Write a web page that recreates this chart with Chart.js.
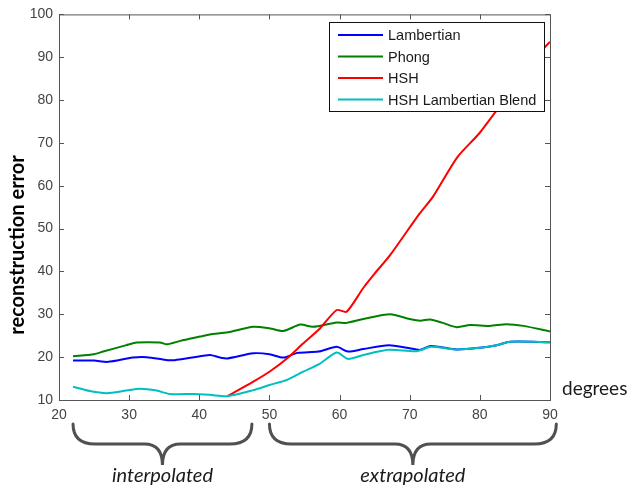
<!DOCTYPE html>
<html>
<head>
<meta charset="utf-8">
<script src="https://cdn.jsdelivr.net/npm/chart.js@4.4.1/dist/chart.umd.min.js"></script>
<style>
  html, body { margin: 0; padding: 0; background: #fff; }
  #wrap { width: 631px; height: 488px; }
</style>
</head>
<body>
<div id="wrap"><canvas id="errChart"></canvas></div>
<script>
// values
const lambertDeg = [22, 25, 27, 30.5, 32.5, 35.5, 36.5, 39, 41.5, 43, 44, 47.7, 50, 52, 54, 57, 59.6, 61.2, 63.4, 67, 69.6, 71.5, 73, 76.7, 80, 82.4, 84.3, 90];
const lambertErr = [19.2, 19.2, 18.9, 19.9, 20.0, 19.3, 19.3, 19.9, 20.5, 19.9, 19.7, 20.9, 20.7, 19.9, 21.0, 21.3, 22.4, 21.3, 21.9, 22.8, 22.2, 21.7, 22.6, 21.8, 22.2, 22.8, 23.6, 23.5];

const phongDeg = [22, 25, 26.3, 29.6, 31.1, 34.4, 35.4, 37.3, 40.1, 41.5, 44.1, 47.7, 50.1, 52, 54.4, 56.2, 59.6, 61, 63.4, 67.2, 70, 71.5, 72.9, 74.7, 76.7, 78.6, 81.4, 83.8, 86.2, 90];
const phongErr = [20.2, 20.7, 21.3, 22.8, 23.4, 23.4, 23.0, 23.8, 24.8, 25.3, 25.8, 27.1, 26.7, 26.1, 27.6, 27.1, 28.1, 28.0, 28.9, 30.0, 28.9, 28.5, 28.8, 28.0, 27.0, 27.5, 27.3, 27.7, 27.3, 26.0];

const hshDeg = [44, 47.7, 50, 52.5, 54.8, 57.2, 59.6, 61, 63.4, 65, 67.2, 71.4, 73.3, 76.8, 79.9, 82.4, 86, 89.3, 90];
const hshErr = [10.9, 14.3, 16.6, 19.7, 23.2, 26.7, 31.0, 30.6, 36.2, 39.5, 43.8, 53.5, 57.4, 66.7, 72.2, 77.6, 85.0, 92.4, 93.6];

const blendDeg = [22, 24.4, 26.8, 29.6, 31.5, 33.9, 35.8, 39.2, 41.5, 44, 47.7, 50, 52.5, 54.8, 57.2, 59.6, 61.2, 63.4, 67, 71, 73, 76.7, 80, 82.4, 84.3, 90];
const blendErr = [13.1, 12.1, 11.6, 12.2, 12.6, 12.2, 11.4, 11.4, 11.2, 10.9, 12.3, 13.5, 14.7, 16.6, 18.5, 21.1, 19.6, 20.5, 21.7, 21.4, 22.4, 21.8, 22.2, 22.8, 23.6, 23.5];

const seriesNames = ['Lambertian', 'Phong', 'HSH', 'HSH Lambertian Blend'];
const seriesColors = ['#0000ff', '#008000', '#ff0000', '#00bfbf'];
const drawOrder = [3, 2, 1, 0]; // blend ends up on top, like the original
const xTicks = [20, 30, 40, 50, 60, 70, 80, 90];
const yTicks = [10, 20, 30, 40, 50, 60, 70, 80, 90, 100];
const braceRanges = [[22, 47.5, 'interpolated'], [50, 90.9, 'extrapolated']];

const pts = (xs, ys) => xs.map((x, i) => ({ x: x, y: ys[i] }));
const allDeg = [lambertDeg, phongDeg, hshDeg, blendDeg];
const allErr = [lambertErr, phongErr, hshErr, blendErr];

Chart.defaults.font.family = '"Liberation Sans", Arial, sans-serif';

const AXIS = '#555555';

// matlab-ish frame, inward ticks, legend box, braces and extra labels
const decorations = {
    id: 'decorations',
    afterDatasetsDraw(chart) {
        const { ctx, chartArea: a, scales } = chart;
        const xs = scales.x, ys = scales.y;
        ctx.save();
        ctx.strokeStyle = AXIS;
        ctx.lineWidth = 1;
        ctx.strokeRect(a.left + 0.5, a.top + 0.5, a.right - a.left, a.bottom - a.top);
        ctx.beginPath();
        xTicks.forEach(v => {
            const px = Math.round(xs.getPixelForValue(v)) + 0.5;
            ctx.moveTo(px, a.bottom); ctx.lineTo(px, a.bottom - 5);
            ctx.moveTo(px, a.top); ctx.lineTo(px, a.top + 5);
        });
        yTicks.forEach(v => {
            const py = Math.round(ys.getPixelForValue(v)) + 0.5;
            ctx.moveTo(a.left, py); ctx.lineTo(a.left + 5, py);
            ctx.moveTo(a.right, py); ctx.lineTo(a.right - 5, py);
        });
        ctx.stroke();

        // legend
        const lx = 329.5, ly = 22.5, lw = 215, lh = 89;
        ctx.fillStyle = '#fff';
        ctx.fillRect(lx, ly, lw, lh);
        ctx.strokeStyle = '#111';
        ctx.strokeRect(lx, ly, lw, lh);
        ctx.font = '14.5px "Liberation Sans", Arial, sans-serif';
        ctx.textBaseline = 'middle';
        ctx.textAlign = 'left';
        seriesNames.forEach((name, i) => {
            const yy = 35 + i * 21.5;
            ctx.strokeStyle = seriesColors[i];
            ctx.lineWidth = 2;
            ctx.beginPath();
            ctx.moveTo(338, yy); ctx.lineTo(383, yy);
            ctx.stroke();
            ctx.fillStyle = '#1a1a1a';
            ctx.fillText(name, 388, yy + 1);
        });

        // y title
        ctx.fillStyle = '#000';
        ctx.save();
        ctx.translate(18, 245);
        ctx.rotate(-Math.PI / 2);
        ctx.textAlign = 'center';
        ctx.font = 'bold 20px Lato, "Open Sans", sans-serif';
        ctx.fillText('reconstruction error', 0, 0);
        ctx.restore();

        ctx.font = '19px Lato, "Open Sans", sans-serif';
        ctx.fillStyle = '#1a1a1a';
        ctx.textAlign = 'left';
        ctx.fillText('degrees', 562, 389);

        // braces
        ctx.strokeStyle = '#505050';
        ctx.lineWidth = 3;
        ctx.lineCap = 'round';
        braceRanges.forEach(([d0, d1, label]) => {
            const x0 = xs.getPixelForValue(d0), x1 = xs.getPixelForValue(d1);
            const xc = (x0 + x1) / 2;
            const y0 = 424, y1 = 444, yt = 465;
            ctx.beginPath();
            ctx.moveTo(x0, y0);
            ctx.quadraticCurveTo(x0, y1, x0 + 22, y1);
            ctx.lineTo(xc - 18, y1);
            ctx.quadraticCurveTo(xc, y1, xc, yt);
            ctx.quadraticCurveTo(xc, y1, xc + 18, y1);
            ctx.lineTo(x1 - 22, y1);
            ctx.quadraticCurveTo(x1, y1, x1, y0);
            ctx.stroke();
            ctx.font = 'italic 20px Lato, "Open Sans", sans-serif';
            ctx.fillStyle = '#1a1a1a';
            ctx.textAlign = 'center';
            ctx.fillText(label, xc, 476);
        });
        ctx.restore();
    }
};

new Chart(document.getElementById('errChart'), {
    type: 'line',
    data: {
        datasets: seriesNames.map((name, i) => ({
            label: name,
            data: pts(allDeg[i], allErr[i]),
            borderColor: seriesColors[i],
            borderWidth: 2,
            pointRadius: 0,
            tension: 0.25,
            order: drawOrder[i],
            fill: false
        }))
    },
    options: {
        responsive: true,
        maintainAspectRatio: false,
        animation: false,
        layout: { padding: { left: 0, top: 14, right: 81, bottom: 0 } },
        plugins: { legend: { display: false }, tooltip: { enabled: false } },
        scales: {
            x: {
                type: 'linear', min: 20, max: 90,
                afterBuildTicks: s => { s.ticks = xTicks.map(v => ({ value: v })); },
                afterFit: s => { s.height = 88; },
                grid: { display: false, drawTicks: false },
                border: { display: false },
                ticks: { padding: 7, color: '#444', font: { size: 14 }, maxRotation: 0 }
            },
            y: {
                min: 10, max: 100,
                afterBuildTicks: s => { s.ticks = yTicks.map(v => ({ value: v })); },
                afterFit: s => { s.width = 59; },
                grid: { display: false, drawTicks: false },
                border: { display: false },
                ticks: { padding: 6, color: '#444', font: { size: 14 } }
            }
        }
    },
    plugins: [decorations]
});
</script>
</body>
</html>
